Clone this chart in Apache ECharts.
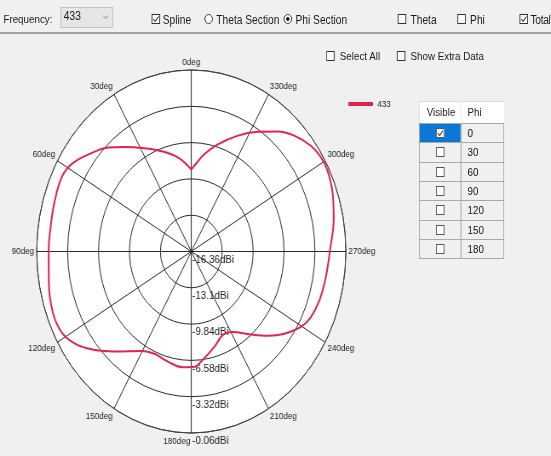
<!DOCTYPE html>
<html>
<head>
<meta charset="utf-8">
<script src="https://cdn.jsdelivr.net/npm/echarts@6/dist/echarts.min.js"></script>
<style>
html,body{margin:0;padding:0;background:#f0f0f0;overflow:hidden;width:551px;height:456px;}
#wrap{position:absolute;left:0;top:0;width:647px;height:456px;transform:scaleX(0.85162);transform-origin:0 0;font-family:"Liberation Sans",Arial,sans-serif;color:#1a1a1a;}
#chart{position:absolute;left:0;top:0;width:647px;height:456px;}
.t{position:absolute;white-space:nowrap;font-size:12px;line-height:14px;}
.t2{position:absolute;white-space:nowrap;font-size:11.5px;line-height:14px;}
.cb{position:absolute;width:10px;height:10px;box-sizing:border-box;border:1px solid #333;background:#fff;}
.rd{position:absolute;width:10px;height:10px;box-sizing:border-box;border:1px solid #333;border-radius:50%;background:#fff;}
.rd.on::after{content:"";position:absolute;left:2px;top:2px;width:4px;height:4px;border-radius:50%;background:#111;}
.cb svg{position:absolute;left:-1px;top:-1px;}
#bar{position:absolute;left:0;top:32px;width:647px;height:2px;background:#a3a3a3;}
#dd{position:absolute;left:71px;top:7px;width:62px;height:21px;box-sizing:border-box;border:1px solid #c2c2c2;background:#e6e6e6;}
#tbl{position:absolute;left:492px;top:101px;}
.cell{position:absolute;box-sizing:border-box;font-size:11.5px;line-height:18px;white-space:nowrap;}
</style>
</head>
<body>
<div id="wrap">
  <div id="chart"></div>
  <div id="bar"></div>
  <div class="t" style="left:4px;top:12px;font-size:11.5px;">Frequency:</div>
  <div id="dd">
    <div class="t" style="left:3px;top:1px;">433</div>
    <svg style="position:absolute;left:48px;top:6px" width="8" height="6" viewBox="0 0 8 6"><polyline points="1,1.5 4,4.5 7,1.5" fill="none" stroke="#8a8a8a" stroke-width="1"/></svg>
  </div>
  <div class="cb" style="left:178px;top:14px;"><svg width="10" height="10" viewBox="0 0 10 10"><polyline points="2,5 4.2,7.5 8.2,2.5" fill="none" stroke="#222" stroke-width="1.1"/></svg></div>
  <div class="t" style="left:191px;top:12.5px;">Spline</div>
  <div class="rd" style="left:240px;top:14px;"></div>
  <div class="t" style="left:254px;top:12.5px;">Theta Section</div>
  <div class="rd on" style="left:333px;top:14px;"></div>
  <div class="t" style="left:347px;top:12.5px;">Phi Section</div>
  <div class="cb" style="left:467px;top:14px;"></div>
  <div class="t" style="left:482px;top:12.5px;">Theta</div>
  <div class="cb" style="left:537px;top:14px;"></div>
  <div class="t" style="left:552px;top:12.5px;">Phi</div>
  <div class="cb" style="left:610px;top:14px;"><svg width="10" height="10" viewBox="0 0 10 10"><polyline points="2,5 4.2,7.5 8.2,2.5" fill="none" stroke="#222" stroke-width="1.1"/></svg></div>
  <div class="t" style="left:623px;top:12.5px;letter-spacing:-0.4px;">Total</div>

  <div class="cb" style="left:383px;top:51px;"></div>
  <div class="t2" style="left:399px;top:49px;">Select All</div>
  <div class="cb" style="left:466px;top:51px;"></div>
  <div class="t2" style="left:482px;top:49px;">Show Extra Data</div>

  <div id="tbl"></div>
</div>
<script>
// ---- data ----
const frequencyName = '433';
const phiAngles = [0, 9, 19, 28, 37, 43, 50, 58, 64, 73, 82, 90, 101, 111, 118, 124, 131, 138, 150, 157, 166, 175, 182, 186, 196, 204, 211, 220, 227, 233, 240, 245, 252, 259, 265, 270, 281, 289, 297, 302, 307, 314, 320, 327, 335, 344, 351, 356, 360];
const gainValues = [-9.01, -7.85, -6.83, -5.85, -4.60, -3.58, -2.61, -1.51, -1.16, -1.27, -1.36, -1.32, -1.06, -0.76, -0.89, -1.56, -2.87, -4.28, -6.03, -6.38, -6.17, -5.93, -6.00, -6.42, -7.47, -8.16, -7.93, -6.63, -5.27, -4.09, -2.92, -2.44, -2.15, -2.02, -1.90, -1.75, -1.06, -0.58, -0.26, -0.29, -0.58, -1.34, -2.28, -3.55, -4.90, -6.37, -7.50, -8.39, -9.01];
const radiusMin = -16.36, radiusMax = -0.06, radiusStep = 3.26;
const angleStep = 30;
const tablePhi = ['0', '30', '60', '90', '120', '150', '180'];
const tableVisible = [true, false, false, false, false, false, false];

// ---- table ----
(function(){
  const tbl = document.getElementById('tbl');
  const c1 = 50, c2 = 50, hh = 22, rh = 19.3;
  let html = '';
  html += `<div class="cell" style="left:0;top:0;width:${c1}px;height:${hh}px;background:#fff;border-top:1px solid #dcdcdc;border-left:1px solid #dcdcdc;border-right:1px solid #e3e3e3;line-height:21px;padding-left:8px;color:#222">Visible</div>`;
  html += `<div class="cell" style="left:${c1}px;top:0;width:${c2}px;height:${hh}px;background:#fff;border-top:1px solid #dcdcdc;line-height:21px;padding-left:7px;color:#222">Phi</div>`;
  tablePhi.forEach((p, i) => {
    const top = Math.round(hh + i * rh);
    const h = Math.round(hh + (i + 1) * rh) - top + 1;
    const sel = i === 0;
    const chk = tableVisible[i] ? '<svg width="10" height="10" viewBox="0 0 10 10"><polyline points="2,5 4.2,7.5 8.2,2.5" fill="none" stroke="#222" stroke-width="1.1"/></svg>' : '';
    html += `<div class="cell" style="left:0;top:${top}px;width:${c1}px;height:${h}px;background:${sel ? '#0a78d4' : '#f0f0f0'};border:1px solid #a9a9a9;"><div class="cb" style="left:19px;top:4px;border-color:#555">${chk}</div></div>`;
    html += `<div class="cell" style="left:${c1 - 1}px;top:${top}px;width:${c2 + 1}px;height:${h}px;background:#f0f0f0;border:1px solid #a9a9a9;padding-left:7px;color:#111">${p}</div>`;
  });
  tbl.innerHTML = html;
})();

// ---- chart ----
const FONT = '"Liberation Sans", Arial, sans-serif';
const lineColor = '#e3234e';
const gridColor = '#2a2a2a';
const chart = echarts.init(document.getElementById('chart'), null, {renderer: 'canvas'});
const seriesData = phiAngles.map((a, i) => [gainValues[i], a]);
const center = [224.6, 251.5];
const R = 181.5;
const dbiFmt = v => parseFloat(v.toFixed(2)) + 'dBi';

chart.setOption({
  animation: false,
  legend: {
    data: [frequencyName], left: 409, top: 99, padding: 0, itemWidth: 29, itemHeight: 4, icon: 'rect',
    textStyle: {fontSize: 9.5, color: '#222', fontFamily: FONT}
  },
  polar: [
    {center: center, radius: R},
    {center: center, radius: R}
  ],
  angleAxis: [
    {
      polarIndex: 0, type: 'value', min: 0, max: 360, interval: angleStep,
      startAngle: 90, clockwise: false, z: 3,
      axisLine: {show: true, lineStyle: {color: '#444', width: 1}},
      axisTick: {show: false},
      axisLabel: {
        margin: 3, fontSize: 9.5, color: '#222', fontFamily: FONT,
        formatter: v => v === 180 ? '{b|180deg}' : v + 'deg',
        rich: {b: {fontSize: 9.5, color: '#222', fontFamily: FONT, padding: [0, 34, 0, 0]}}
      },
      splitLine: {show: true, lineStyle: {color: gridColor, width: 1}},
      splitArea: {show: false}
    },
    {
      polarIndex: 1, type: 'value', min: 0, max: 360, startAngle: -90, clockwise: false, z: 0,
      axisLine: {show: false}, axisTick: {show: false}, axisLabel: {show: false},
      splitLine: {show: false},
      splitArea: {show: true, areaStyle: {color: ['#ffffff']}}
    }
  ],
  radiusAxis: [
    {
      polarIndex: 0, type: 'value', min: radiusMin, max: radiusMax, interval: radiusStep, z: 3,
      axisLine: {show: false}, axisTick: {show: false}, axisLabel: {show: false},
      splitLine: {show: true, lineStyle: {color: gridColor, width: 1}}
    },
    {
      polarIndex: 1, type: 'value', min: radiusMin, max: radiusMax, interval: radiusStep, z: 4,
      axisLine: {show: false}, axisTick: {show: false}, splitLine: {show: false},
      axisLabel: {
        show: true, margin: 1, fontSize: 11.5, color: '#222', fontFamily: FONT,
        align: 'left', verticalAlign: 'top', padding: [2, 0, 0, 0],
        formatter: dbiFmt
      }
    }
  ],
  series: [{
    name: frequencyName, type: 'line', coordinateSystem: 'polar', polarIndex: 0, z: 5,
    data: seriesData, smooth: 0.4, showSymbol: false, symbol: 'none',
    lineStyle: {color: lineColor, width: 2}, itemStyle: {color: lineColor}
  }]
});
</script>
</body>
</html>
